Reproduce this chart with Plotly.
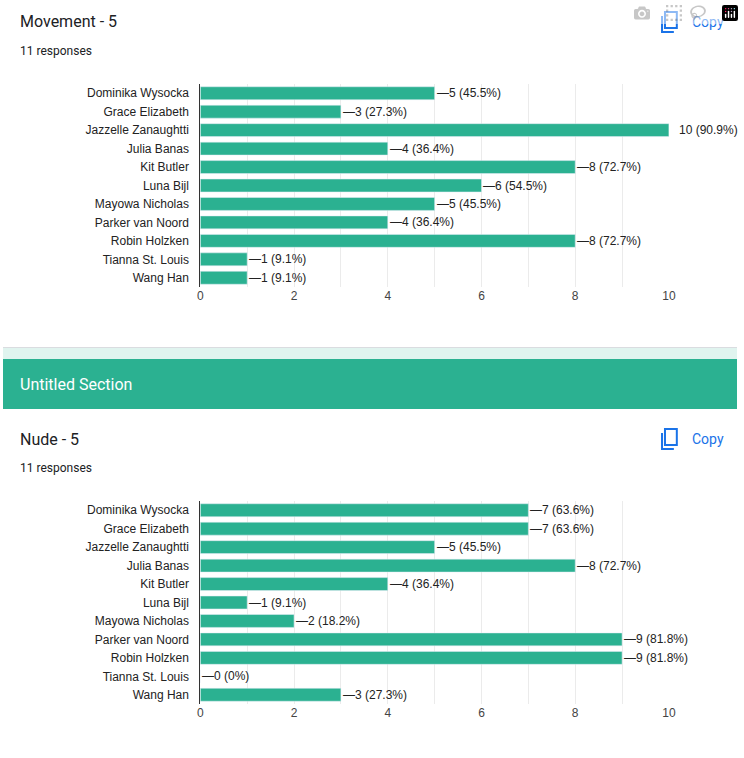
import plotly.graph_objects as go
from plotly.subplots import make_subplots

# data
names = ["Dominika Wysocka", "Grace Elizabeth", "Jazzelle Zanaughtti", "Julia Banas",
         "Kit Butler", "Luna Bijl", "Mayowa Nicholas", "Parker van Noord",
         "Robin Holzken", "Tianna St. Louis", "Wang Han"]
movement = [5, 3, 10, 4, 8, 6, 5, 4, 8, 1, 1]
nude = [7, 7, 5, 8, 4, 1, 2, 9, 9, 0, 3]
total = 11
titles = ["Movement - 5", "Nude - 5"]

GREEN = "#2bb191"
W, H = 744, 758

def py(px):
    return 1 - px / H

fig = make_subplots(rows=2, cols=1)
fig.update_layout(
    width=W, height=H, margin=dict(l=0, r=0, t=0, b=0),
    paper_bgcolor="white", plot_bgcolor="white", showlegend=False,
    font=dict(family="Liberation Sans, Arial", size=12, color="#222"),
    bargap=0.3,
    xaxis=dict(domain=[200 / W, 675 / W]),
    xaxis2=dict(domain=[200 / W, 675 / W]),
    yaxis=dict(domain=[py(287), py(84)]),
    yaxis2=dict(domain=[py(704), py(501)]),
)

for i, vals in enumerate([movement, nude]):
    r = i + 1
    fig.add_trace(go.Bar(y=names, x=vals, orientation="h", marker_color=GREEN,
                         hoverinfo="x+y"), row=r, col=1)
    for n, v in zip(names, vals):
        pct = v / total * 100
        ps = "0%" if v == 0 else f"{pct:.1f}%"
        lead = "" if v == 10 else "—"
        fig.add_annotation(x=v, y=n, text=f"{lead}{v} ({ps})", showarrow=False,
                           xanchor="left", xshift=0 if lead else 8,
                           font=dict(size=12, color="#222"),
                           xref=f"x{'' if r == 1 else r}", yref=f"y{'' if r == 1 else r}")

fig.update_xaxes(range=[0, 10], dtick=2, showgrid=True, gridcolor="#ebebeb",
                 minor=dict(dtick=1, showgrid=True, gridcolor="#ebebeb"),
                 zeroline=False, ticks="", tickfont=dict(size=12, color="#444"),
                 fixedrange=True)
fig.update_yaxes(autorange="reversed", showline=True, linecolor="#333", linewidth=1,
                 ticks="", ticklabelstandoff=8, tickfont=dict(size=12, color="#222"),
                 fixedrange=True)

# section bands
fig.add_shape(type="line", xref="paper", yref="paper", x0=0, x1=1, y0=py(347.5), y1=py(347.5),
              line=dict(color="#dadce0", width=1))
fig.add_shape(type="rect", xref="paper", yref="paper", x0=0, x1=1, y0=py(359), y1=py(348),
              fillcolor="#e0f4ef", line_width=0)
fig.add_shape(type="rect", xref="paper", yref="paper", x0=0, x1=1, y0=py(409), y1=py(359),
              fillcolor=GREEN, line_width=0)
fig.add_annotation(xref="paper", yref="paper", x=15 / W, y=py(384), text="Untitled Section",
                   showarrow=False, xanchor="left", yanchor="middle",
                   font=dict(family="Roboto", size=16, color="white"))

for top, t in zip([22, 439], titles):
    fig.add_annotation(xref="paper", yref="paper", x=15 / W, y=py(top), text=t,
                       showarrow=False, xanchor="left", yanchor="middle",
                       font=dict(family="Roboto", size=16, color="#202124"))
    fig.add_annotation(xref="paper", yref="paper", x=15 / W, y=py(top + 29), text=f"{total} responses",
                       showarrow=False, xanchor="left", yanchor="middle",
                       font=dict(family="Roboto", size=12, color="#202124"))
    fig.add_annotation(xref="paper", yref="paper", x=696 / W, y=py(top), text="Copy",
                       showarrow=False, xanchor="left", yanchor="middle",
                       font=dict(family="Roboto", size=14, color="#1a73e8"))
    # copy icon
    fig.add_shape(type="rect", xref="paper", yref="paper", x0=671 / W, x1=683 / W,
                  y0=py(top + 6), y1=py(top - 10), line=dict(color="#1a73e8", width=2))
    fig.add_shape(type="path", xref="paper", yref="paper",
                  path=f"M {668 / W},{py(top - 6)} L {668 / W},{py(top + 10)} L {680 / W},{py(top + 10)}",
                  line=dict(color="#1a73e8", width=2))

fig.write_html("out.html", post_script="document.body.style.margin='0';")
